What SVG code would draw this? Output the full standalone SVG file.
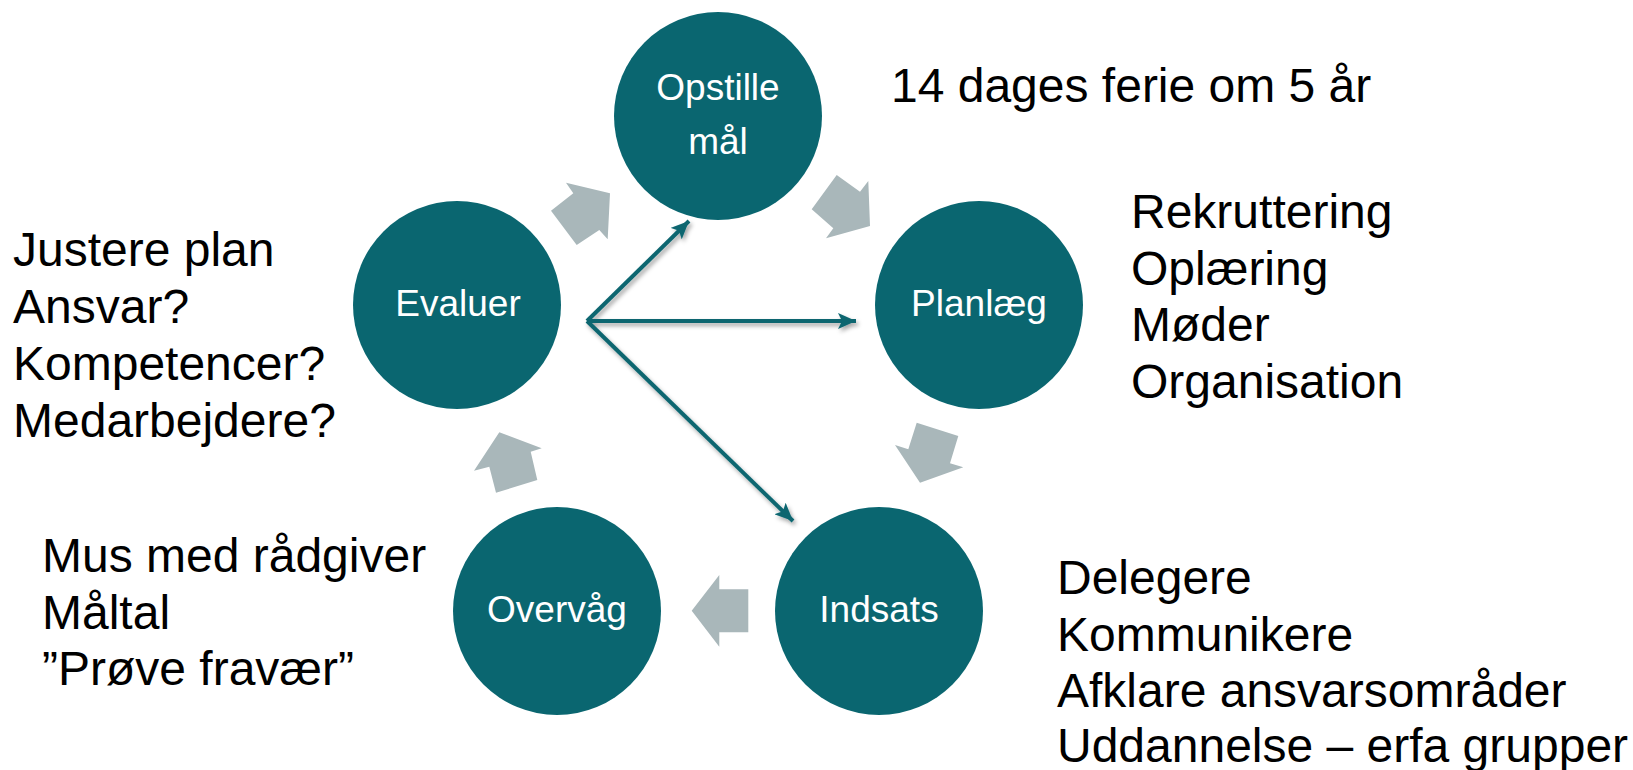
<svg xmlns="http://www.w3.org/2000/svg" width="1633" height="770" viewBox="0 0 1633 770">
<style>
.node{fill:#0A6670}
.lbl{fill:#FFFFFF;font-family:"Liberation Sans",Arial,sans-serif;font-size:37px;text-anchor:middle}
.blk{fill:#A9B7BA}
.note{fill:#000000;font-family:"Liberation Sans",Arial,sans-serif;font-size:48px}
.conn{stroke:#0A6670;stroke-width:4;fill:none;marker-end:url(#ah)}
</style>
<defs>
<marker id="ah" markerUnits="userSpaceOnUse" markerWidth="20" markerHeight="16" refX="18" refY="8" orient="auto">
<path d="M0,0 L18,8 L0,16 L4,8 Z" fill="#0A6670"/>
</marker>
<filter id="sh" x="-10%" y="-10%" width="120%" height="130%">
<feDropShadow dx="2" dy="3" stdDeviation="2" flood-color="#000" flood-opacity="0.35"/>
</filter>
</defs>
<g id="cycle-arrows">
<polygon class="blk" points="566,182.7 610,193.3 607.7,239.3 599.3,230 576.7,245 551,210.7 573.3,193.3"/>
<polygon class="blk" points="811.7,209.3 836.7,175 860,191.7 868.3,181 870,226 826,238.3 833.3,228.3"/>
<polygon class="blk" points="916.7,422.7 958.3,436 950,463.3 963.3,467.3 920,482.7 895,445 908.3,449.3"/>
<polygon class="blk" points="691.7,610.7 719.3,575 719.3,589.3 748.3,589.3 748.3,632.3 719.3,632.3 719.3,646.7"/>
<polygon class="blk" points="499.3,432.3 541.7,448.3 530.7,451.7 537.3,480 496,492.7 489.3,466.7 474,470.7"/>
</g>
<g id="connectors" filter="url(#sh)">
<path class="conn" d="M587,321 L689,221"/>
<path class="conn" d="M587,321 L856,321"/>
<path class="conn" d="M587,321 L793,521"/>
</g>
<g id="node-opstille">
<circle class="node" cx="718" cy="116" r="104"/>
<text class="lbl" x="718" y="100">Opstille</text>
<text class="lbl" x="718" y="154">mål</text>
</g>
<g id="node-planlaeg">
<circle class="node" cx="979" cy="305" r="104"/>
<text class="lbl" x="979" y="316">Planlæg</text>
</g>
<g id="node-indsats">
<circle class="node" cx="879" cy="611" r="104"/>
<text class="lbl" x="879" y="622">Indsats</text>
</g>
<g id="node-overvaag">
<circle class="node" cx="557" cy="611" r="104"/>
<text class="lbl" x="557" y="622">Overvåg</text>
</g>
<g id="node-evaluer">
<circle class="node" cx="457" cy="305" r="104"/>
<text class="lbl" x="458" y="316">Evaluer</text>
</g>
<g id="notes">
<text class="note" x="891" y="102">14 dages ferie om 5 år</text>
<text class="note" x="1131" y="228">Rekruttering</text>
<text class="note" x="1131" y="284.5">Oplæring</text>
<text class="note" x="1131" y="341">Møder</text>
<text class="note" x="1131" y="397.5">Organisation</text>
<text class="note" x="13" y="266">Justere plan</text>
<text class="note" x="13" y="323">Ansvar?</text>
<text class="note" x="13" y="380">Kompetencer?</text>
<text class="note" x="13" y="437">Medarbejdere?</text>
<text class="note" x="42" y="572">Mus med rådgiver</text>
<text class="note" x="42" y="628.5">Måltal</text>
<text class="note" x="42" y="685">”Prøve fravær”</text>
<text class="note" x="1057" y="593.5">Delegere</text>
<text class="note" x="1057" y="650.5">Kommunikere</text>
<text class="note" x="1057" y="707">Afklare ansvarsområder</text>
<text class="note" x="1057" y="762">Uddannelse – erfa grupper</text>
</g>
</svg>
